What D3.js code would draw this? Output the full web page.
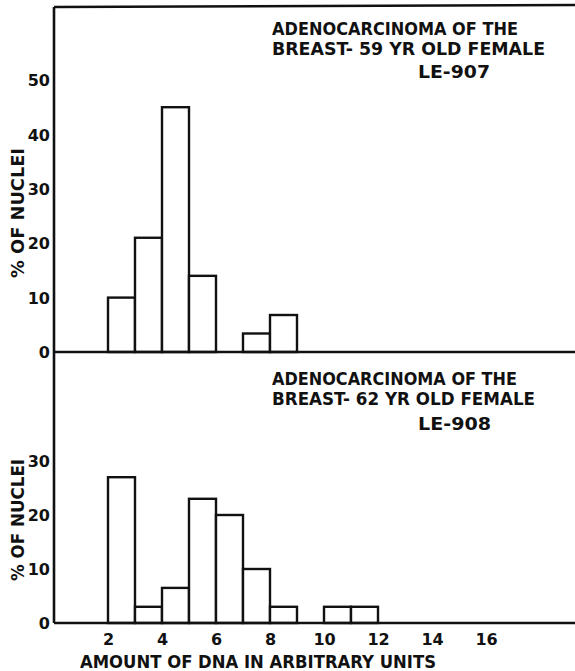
<!DOCTYPE html>
<html>
<head>
<meta charset="utf-8">
<script src="https://cdn.jsdelivr.net/npm/d3@7"></script>
<style>
  body { margin: 0; background: #fff; }
  svg text { font-family: "DejaVu Sans", sans-serif; font-weight: bold; fill: #111; }
</style>
</head>
<body>
<svg id="chart" width="575" height="671"></svg>
<script>
// data
let binStarts = [2, 3, 4, 5, 6, 7, 8, 9, 10, 11];
let pct907 = [10, 21, 45, 14, 0, 3.4, 6.8, 0, 0, 0];
let pct908 = [27, 3, 6.5, 23, 20, 10, 3, 0, 3, 3];
let yTicks907 = [0, 10, 20, 30, 40, 50];
let yTicks908 = [0, 10, 20, 30];
let xTicks = [2, 4, 6, 8, 10, 12, 14, 16];
let title907 = ["ADENOCARCINOMA  OF  THE", "BREAST- 59 YR OLD  FEMALE", "LE-907"];
let title908 = ["ADENOCARCINOMA  OF  THE", "BREAST- 62  YR OLD  FEMALE", "LE-908"];

let svg = d3.select("#chart");
let axisX = 54;

let x = d3.scaleLinear().domain([0, (575 - axisX) / 27]).range([axisX, 575]);

// two panels share one x scale, each has its own y
let panels = [
  { values: pct907, ticks: yTicks907, y: d3.scaleLinear().domain([0, 50]).range([352, 80]),
    top: 7, title: title907, titleY: [35, 55, 78], titleLen: [246, 273, 72], labelY: 213, labelLen: 130 },
  { values: pct908, ticks: yTicks908, y: d3.scaleLinear().domain([0, 30]).range([623, 461]),
    top: 352, title: title908, titleY: [385, 405, 430], titleLen: [245, 263, 73], labelY: 520, labelLen: 122 }
];

let titleX = [272, 272, 418];

for (let p of panels) {
  let g = svg.append("g");

  // bars
  g.selectAll("rect")
    .data(binStarts.map((b, i) => ({ b: b, v: p.values[i] })).filter(d => d.v > 0))
    .enter()
    .append("rect")
    .attr("x", d => x(d.b))
    .attr("y", d => p.y(d.v))
    .attr("width", d => x(d.b + 1) - x(d.b))
    .attr("height", d => p.y(0) - p.y(d.v))
    .attr("fill", "white")
    .attr("stroke", "#111")
    .attr("stroke-width", 2.4);

  // baseline and left axis line
  g.append("line")
    .attr("x1", axisX).attr("x2", 575)
    .attr("y1", p.y(0)).attr("y2", p.y(0))
    .attr("stroke", "#111").attr("stroke-width", 2.6);
  g.append("line")
    .attr("x1", axisX).attr("x2", axisX)
    .attr("y1", p.top).attr("y2", p.y(0))
    .attr("stroke", "#111").attr("stroke-width", 2.6);

  // y tick labels (no tick marks in the original)
  let ya = g.append("g")
    .attr("transform", `translate(${axisX - 4},0)`)
    .call(d3.axisLeft(p.y).tickValues(p.ticks).tickSize(0).tickFormat(d3.format("d")));
  ya.select(".domain").remove();
  ya.selectAll("text")
    .attr("font-size", 16)
    .attr("font-family", null)
    .attr("x", 0)
    .attr("dy", "0.36em");

  // y axis title
  g.append("text")
    .attr("transform", `translate(24,${p.labelY}) rotate(-90)`)
    .attr("text-anchor", "middle")
    .attr("font-size", 17)
    .attr("textLength", p.labelLen)
    .attr("lengthAdjust", "spacingAndGlyphs")
    .text("% OF  NUCLEI");

  // panel title
  p.title.forEach((t, i) => {
    g.append("text")
      .attr("x", titleX[i])
      .attr("y", p.titleY[i])
      .attr("font-size", 18)
      .attr("textLength", p.titleLen[i])
      .attr("lengthAdjust", "spacingAndGlyphs")
      .text(t);
  });
}

// top border of upper panel
svg.append("line")
  .attr("x1", axisX).attr("x2", 575)
  .attr("y1", 7).attr("y2", 5)
  .attr("stroke", "#111").attr("stroke-width", 2.6);

// x tick labels under the lower panel
let xa = svg.append("g")
  .attr("transform", "translate(0,630)")
  .call(d3.axisBottom(x).tickValues(xTicks).tickSize(0));
xa.select(".domain").remove();
xa.selectAll("text")
  .attr("font-size", 16)
  .attr("font-family", null)
  .attr("y", 0)
  .attr("dy", "0.95em");

svg.append("text")
  .attr("x", 80)
  .attr("y", 668)
  .attr("font-size", 18)
  .attr("textLength", 356)
  .attr("lengthAdjust", "spacingAndGlyphs")
  .text("AMOUNT  OF  DNA  IN  ARBITRARY  UNITS");
</script>
</body>
</html>
